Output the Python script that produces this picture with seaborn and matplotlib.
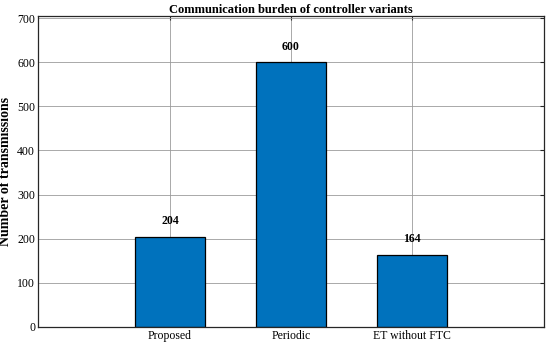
import numpy as np
import pandas as pd
import matplotlib
matplotlib.use("Agg")
import matplotlib.pyplot as plt
import seaborn as sns

# chart data
variants = ["Proposed", "Periodic", "ET without FTC"]
transmissions = [204, 600, 164]

df = pd.DataFrame({"variant": variants, "count": transmissions})

sns.set_style("white")
plt.rcParams["font.family"] = ["Liberation Serif", "DejaVu Serif"]
plt.rcParams["text.color"] = "black"
plt.rcParams["axes.labelcolor"] = "black"
plt.rcParams["xtick.color"] = "#262626"
plt.rcParams["ytick.color"] = "#262626"
plt.rcParams["xtick.labelcolor"] = "black"
plt.rcParams["ytick.labelcolor"] = "black"

fig = plt.figure(figsize=(5.5, 3.47), dpi=100)
ax = fig.add_axes([0.069, 0.058, 0.92, 0.896])

sns.barplot(data=df, x="variant", y="count", color="#0072BD", saturation=1,
            width=0.58, edgecolor="black", linewidth=0.9, ax=ax, zorder=1)

# value labels above each bar
for i, v in enumerate(transmissions):
    ax.text(i, v + 22, str(v), ha="center", va="bottom", fontsize=8.5,
            fontweight="bold", color="black")

ax.set_xlim(-1.09, 3.09)
ax.set_ylim(0, 705)
ax.set_yticks(np.arange(0, 701, 100))
ax.set_xlabel("")
ax.set_ylabel("Number of transmissions", fontsize=10, fontweight="bold",
              labelpad=4)
ax.set_title("Communication burden of controller variants", fontsize=9,
             fontweight="bold", pad=2, color="black")

ax.grid(True, color="#9a9a9a", linewidth=0.7)
for line in ax.get_xgridlines() + ax.get_ygridlines():
    line.set_zorder(2)
    line.set_alpha(0.85)

ax.tick_params(axis="both", direction="in", length=3, width=0.8, labelsize=8.5,
               top=True, right=True, pad=2)
for s in ax.spines.values():
    s.set_color("#262626")
    s.set_linewidth(0.9)

fig.savefig("out.png", dpi=100)
